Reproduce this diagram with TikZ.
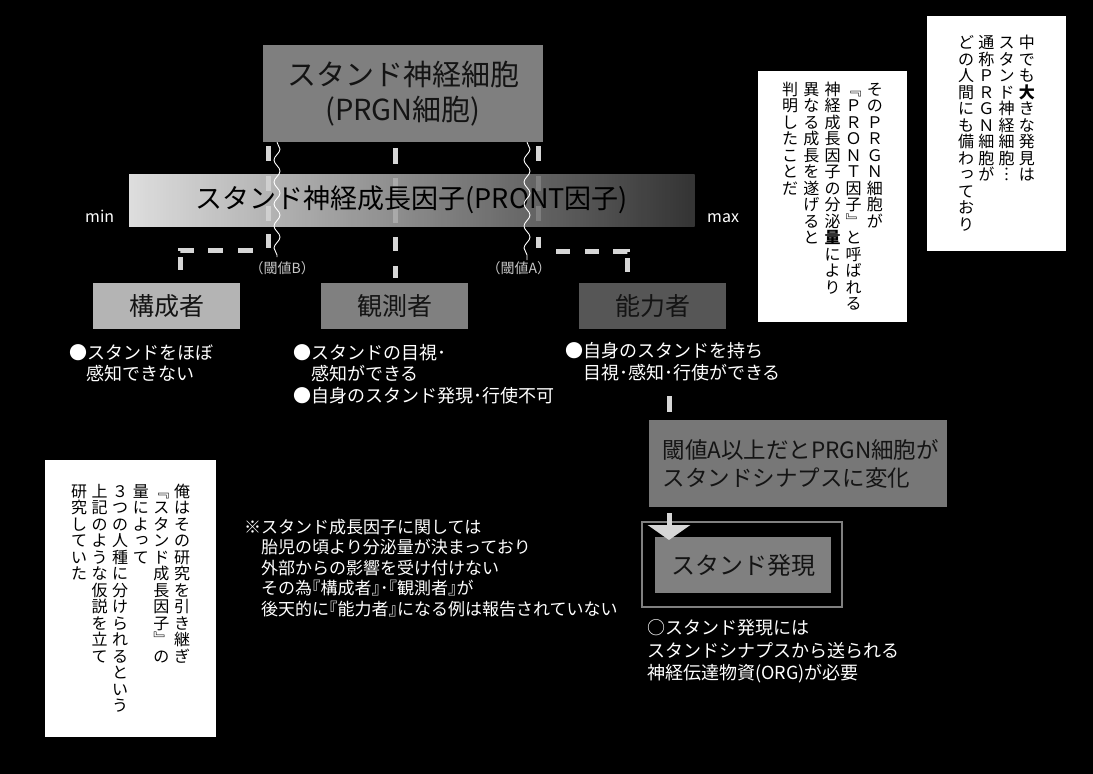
\documentclass[tikz,border=0pt]{standalone}
\usepackage{fontspec}
\setmainfont{Noto Sans CJK JP}
\newfontfamily\vfont{Noto Sans CJK JP}
\usetikzlibrary{arrows.meta,decorations.pathmorphing}
\makeatletter
\newlength\vcw
\setlength\vcw{20.5pt}
\newcommand\vcol[1]{\vtop{\offinterlineskip\@tfor\vc@tok:=#1\do{\hbox to \vcw{\hss\vc@tok\hss\vrule height 14.3pt depth 2.2pt width 0pt}}}}
\makeatother
\newcommand\sk[1]{\raisebox{0.14em}{\hspace*{0.12em}#1}}
\newcommand\lbr{\kern-0.5em『}
\newcommand\rbr{』\kern-0.5em}
\definecolor{c7f}{HTML}{7F7F7F}
\definecolor{cb4}{HTML}{B4B4B4}
\definecolor{c80}{HTML}{808080}
\definecolor{c55}{HTML}{565656}
\definecolor{c78}{HTML}{777777}
\definecolor{c40}{HTML}{3C3C3C}
\definecolor{dashc}{HTML}{D6D6D6}
\definecolor{labc}{HTML}{C8C8C8}
\definecolor{boxtext}{HTML}{141414}
\begin{document}
\begin{tikzpicture}[x=1pt,y=-1pt,
  gbox/.style={rectangle, inner sep=0pt, text=boxtext},
  dline/.style={draw=dashc, line width=5pt},
  wavy/.style={draw=white, line width=0.9pt, decorate, decoration={snake, segment length=22pt, amplitude=3pt}},
  desc/.style={anchor=base west, text=white, font=\fontsize{18}{22}\selectfont, inner sep=0pt},
  note/.style={anchor=base west, text=white, font=\fontsize{17}{20}\selectfont, inner sep=0pt},
  lab/.style={anchor=base west, text=labc, font=\fontsize{14}{14}\selectfont, inner sep=0pt},
  vbox/.style={fill=white, inner sep=0pt, text=black, font=\vfont\fontsize{16}{16.5}\selectfont},
  arrowline/.style={draw=dashc, line width=5pt, -{Triangle[width=42pt,length=15pt]}}
]
\fill[black] (0,0) rectangle (1093,774);
\useasboundingbox (0,0) rectangle (1093,774);

% top box
\node[gbox, fill=c7f, minimum width=280pt, minimum height=97pt, align=center, font=\fontsize{29}{35}\selectfont] (top) at (403,93.5) {スタンド神経細胞\\(PRGN細胞)};

% child boxes
\node[gbox, fill=cb4, minimum width=147pt, minimum height=46pt, font=\fontsize{25}{25}\selectfont] (k1) at (166.5,306) {構成者};
\node[gbox, fill=c80, minimum width=147pt, minimum height=46pt, font=\fontsize{25}{25}\selectfont] (k2) at (394.5,306) {観測者};
\node[gbox, fill=c55, minimum width=147pt, minimum height=46pt, font=\fontsize{25}{25}\selectfont] (k3) at (652.5,306) {能力者};

% connectors
\coordinate (xL) at (268,0);
\coordinate (xM) at (395,0);
\coordinate (xR) at (538,0);
\coordinate (eL) at (180,270);
\coordinate (eM) at (395,278);
\coordinate (eR) at (627,272);
\draw[dline, dash pattern=on 0pt off 4pt on 15pt off 15pt on 15pt off 15pt on 15pt off 13pt on 14pt off 17pt on 15pt off 15pt on 15pt off 14pt on 14pt off 7pt on 13pt off 30pt]
  (top.south -| xL) -- (268,250) -- (180,250) -- (eL);
\draw[dline, dash pattern=on 0pt off 6pt on 16pt off 14pt on 15pt off 15pt on 15pt off 14pt on 14pt off 15pt on 12pt off 30pt]
  (top.south -| xM) -- (eM);
\draw[dline, dash pattern=on 0pt off 4pt on 15pt off 15pt on 15pt off 15pt on 15pt off 16pt on 11pt off 21pt on 14pt off 15pt on 14pt off 14pt on 14pt off 7pt on 14pt off 30pt]
  (top.south -| xR) -- (538,251) -- (627,251) -- (eR);

% gradient bar
\node[gbox, minimum width=565.5pt, minimum height=52pt, left color=white, right color=c40, fill opacity=0.87, text opacity=1, text=black, font=\fontsize{27}{30}\selectfont] (bar) at (411.75,200) {スタンド神経成長因子(PRONT因子)};

% wavy threshold lines
\coordinate (wL) at (277,0);
\coordinate (wR) at (527,0);
\coordinate (wLe) at (277,257);
\coordinate (wRe) at (527,260);
\draw[wavy] (top.south -| wL) -- (wLe);
\draw[wavy] (top.south -| wR) -- (wRe);

\node[anchor=base west, text=white, font=\fontsize{16}{16}\selectfont, inner sep=0pt] (min) at (85,222) {min};
\node[anchor=base west, text=white, font=\fontsize{16}{16}\selectfont, inner sep=0pt] (max) at (707,222) {max};
\node[lab] (thB) at (253,273) {\kern-0.25em（閾値B）\kern-0.25em};
\node[lab] (thA) at (490,273) {\kern-0.25em（閾値A）\kern-0.25em};

% descriptions
\node[desc] (d1a) at (69,359) {●スタンドをほぼ};
\node[desc] (d1b) at (86,380.5) {感知できない};
\node[desc] (d2a) at (293,359) {●スタンドの目視･};
\node[desc] (d2b) at (311,380.5) {感知ができる};
\node[desc] (d2c) at (293,402.5) {●自身のスタンド発現･行使不可};
\node[desc] (d3a) at (565,357) {●自身のスタンドを持ち};
\node[desc] (d3b) at (583,379) {目視･感知･行使ができる};

% threshold box
\node[gbox, fill=c78, text width=270pt, inner xsep=14pt, minimum height=87pt, align=left, font=\fontsize{22.5}{28}\selectfont] (thr) at (797.5,463.5) {閾値A以上だとPRGN細胞が\\スタンドシナプスに変化};
\coordinate (c3) at (669,396);
\draw[draw=dashc, line width=5pt, dash pattern=on 16pt off 30pt] (c3) -- (thr.north -| c3);

% stand expression
\node[draw=c80, line width=2.5pt, minimum width=200pt, minimum height=85pt, inner sep=0pt] (frame) at (742,564.5) {};
\node[gbox, fill=c80, minimum width=176pt, minimum height=56pt, font=\fontsize{24}{24}\selectfont] (hatsugen) at (743,565) {スタンド発現};
\coordinate (a0) at (669,0);
\coordinate (a1) at (669,540);
\draw[arrowline, shorten <=6pt] (thr.south -| a0) -- (a1);

\node[desc] (e1) at (647,634) {○スタンド発現には};
\node[desc] (e2) at (647,657) {スタンドシナプスから送られる};
\node[desc] (e3) at (647,679) {神経伝達物資(ORG)が必要};

% note
\node[note] (n1) at (244,533) {※スタンド成長因子に関しては};
\node[note] (n2) at (261,553.5) {胎児の頃より分泌量が決まっており};
\node[note] (n3) at (261,574) {外部からの影響を受け付けない};
\node[note] (n4) at (261,594.5) {その為\lbr 構成者\rbr ･\lbr 観測者\rbr が};
\node[note] (n5) at (261,615) {後天的に\lbr 能力者\rbr になる例は報告されていない};

% vertical text boxes
\node[vbox, minimum width=139pt, minimum height=235pt] (v1) at (996.5,133.5) {\setlength\vcw{20.3pt}%
\vcol{どの人間にも備わ{\sk っ}ており}%
\vcol{通称ＰＲＧＮ細胞が}%
\vcol{スタンド神経細胞︙}%
\vcol{中でも{\bfseries 大}きな発見は}};
\node[vbox, minimum width=149pt, minimum height=251pt] (v2) at (832.5,196.5) {\setlength\vcw{21.2pt}%
\vcol{判明したことだ}%
\vcol{異なる成長を遂げると}%
\vcol{神経成長因子の分泌{\bfseries 量}により}%
\vcol{﹃ＰＲＯＮＴ因子﹄と呼ばれる}%
\vcol{そのＰＲＧＮ細胞が}};
\node[vbox, minimum width=171pt, minimum height=277pt] (v3) at (130.5,598.5) {\setlength\vcw{20.6pt}%
\vcol{研究していた}%
\vcol{上記のような仮説を立て}%
\vcol{３つの人種に分けられるという}%
\vcol{量によ{\sk っ}て}%
\vcol{﹃スタンド成長因子﹄の}%
\vcol{俺はその研究を引き継ぎ}};
\end{tikzpicture}
\end{document}
